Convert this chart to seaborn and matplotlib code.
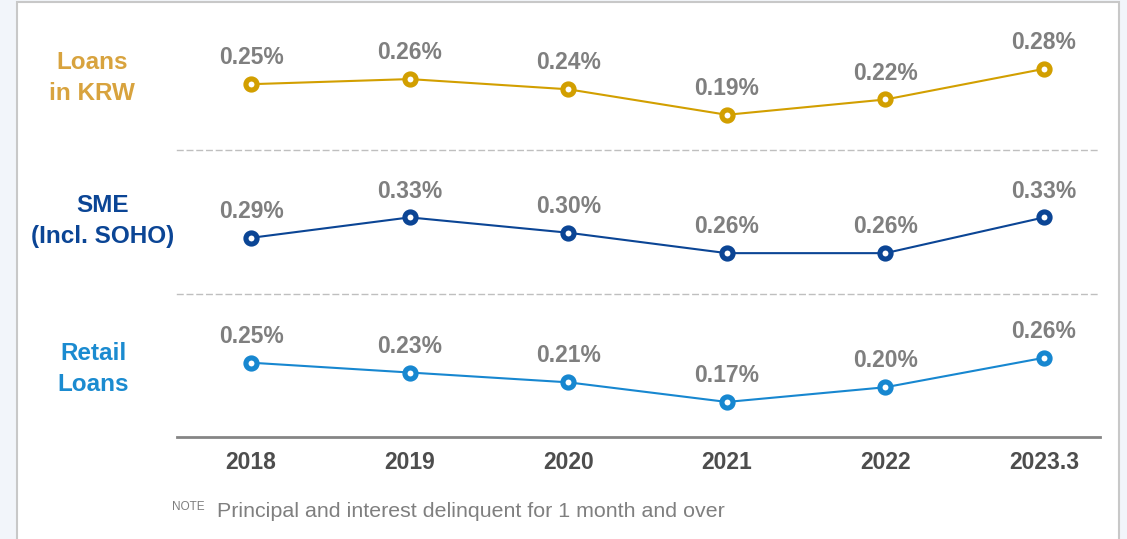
import matplotlib
matplotlib.use("Agg")
import matplotlib.pyplot as plt
import matplotlib.patches as patches
import seaborn as sns
import pandas as pd

# chart data
years = ['2018', '2019', '2020', '2021', '2022', '2023.3']
krw = [0.25, 0.26, 0.24, 0.19, 0.22, 0.28]
sme = [0.29, 0.33, 0.30, 0.26, 0.26, 0.33]
retail = [0.25, 0.23, 0.21, 0.17, 0.20, 0.26]
series_names = ['Loans\nin KRW', 'SME\n(Incl. SOHO)', 'Retail\nLoans']
note_text = 'Principal and interest delinquent for 1 month and over'

line_colors = ['#D29F00', '#0B4595', '#1787D0']
name_colors = ['#D8A33E', '#0B4595', '#1B8BD0']
value_color = '#7F7F7F'

sns.set_theme(style='white')
plt.rcParams['font.family'] = ['Liberation Sans', 'DejaVu Sans']

W, H = 1127, 539
fig = plt.figure(figsize=(W / 100, H / 100), dpi=100)
fig.patch.set_facecolor('#F2F5FA')

# white panel with a thin grey frame, kept behind the axes
panel = patches.Rectangle((17 / W, -0.05), (1119 - 17) / W, 1.05 - 1.5 / H,
                          transform=fig.transFigure, facecolor='white',
                          edgecolor='#C8C8C8', linewidth=1.5, zorder=-10)
fig.patches.append(panel)


def px_axes(x0, y0, x1, y1):
    # axes placed by pixel box (top-left origin)
    ax = fig.add_axes([x0 / W, 1 - y1 / H, (x1 - x0) / W, (y1 - y0) / H])
    ax.patch.set_alpha(0)
    return ax


bands = [(0, 150), (150, 294), (294, 437)]
ylims = [(0.121, 0.415), (0.180, 0.462), (0.0986, 0.390)]
name_pos = [(92, 78), (103, 221), (93, 369)]
all_values = [krw, sme, retail]

for i, values in enumerate(all_values):
    ax = px_axes(177, bands[i][0], 1100, bands[i][1])
    df = pd.DataFrame({'year': years, 'rate': values})
    sns.lineplot(data=df, x='year', y='rate', ax=ax, sort=False,
                 color=line_colors[i], linewidth=1.5, marker='o',
                 markersize=8, markeredgewidth=3.7,
                 markerfacecolor='white', markeredgecolor=line_colors[i])
    ax.set_xlim(-0.467, 5.353)
    ax.set_ylim(*ylims[i])
    ax.set_xlabel('')
    ax.set_ylabel('')
    ax.set_yticks([])
    for side in ['top', 'left', 'right']:
        ax.spines[side].set_visible(False)

    for x, v in enumerate(values):
        ax.annotate(f'{v:.2f}%', (x, v), xytext=(0, 19),
                    textcoords='offset points', ha='center', va='center',
                    fontsize=16.5, fontweight='bold', color=value_color)

    fig.text(name_pos[i][0] / W, 1 - name_pos[i][1] / H, series_names[i],
             ha='center', va='center', multialignment='center',
             fontsize=17.5, fontweight='bold', color=name_colors[i],
             linespacing=1.4)

    if i < 2:
        ax.spines['bottom'].set_color('#BFBFBF')
        ax.spines['bottom'].set_linewidth(1.0)
        ax.spines['bottom'].set_linestyle((0, (4, 3)))
        ax.set_xticks([])
    else:
        ax.spines['bottom'].set_color('#858585')
        ax.spines['bottom'].set_linewidth(2.0)
        ax.set_xticks(range(len(years)))
        ax.set_xticklabels(years, fontsize=16.5, fontweight='bold',
                           color='#4D4D4D')
        ax.tick_params(axis='x', length=0, pad=10)

fig.text(172 / W, 1 - 510 / H, 'NOTE', fontsize=8.5, color=value_color,
         ha='left', va='baseline')
fig.text(217 / W, 1 - 517 / H, note_text, fontsize=15.4, color=value_color,
         ha='left', va='baseline')

fig.savefig('out.png', dpi=100)
